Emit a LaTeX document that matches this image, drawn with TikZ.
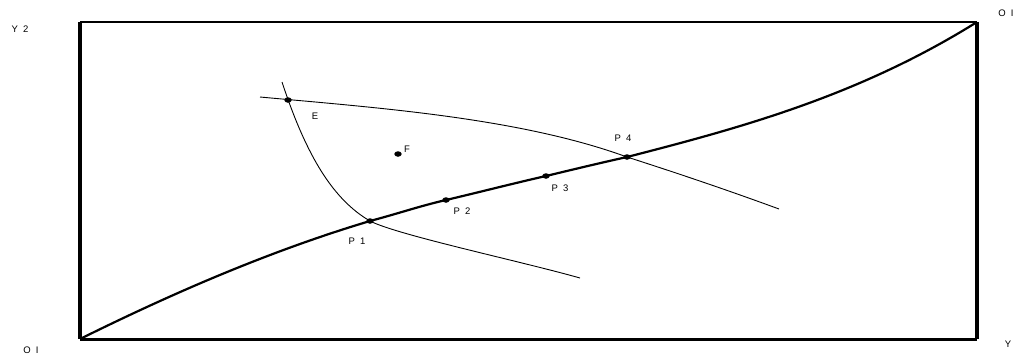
\documentclass[tikz,border=0pt]{standalone}
\usepackage{fontspec}
\setmainfont{Liberation Sans}
\newcommand\lblfont{\fontsize{9.5}{9.5}\selectfont\spaceskip 5pt\relax}
\begin{document}
\begin{tikzpicture}[x=1pt,y=-1pt,
  lbl/.style={font=\lblfont, inner sep=0pt},
  dot/.style={fill=black, circle, inner sep=0pt, minimum size=5.5pt, xscale=1.35},
  thick curve/.style={line width=2.2pt},
  thin curve/.style={line width=0.9pt}]
\useasboundingbox (0,0) rectangle (1017,354);
% frame
\coordinate (BL) at (80,339);
\coordinate (TL) at (80,22);
\coordinate (TR) at (977,22);
\coordinate (BR) at (977,339);
\draw[line width=1.8pt] (TL) -- (TR);
\draw[line width=4pt] (TL) -- (BL);
\draw[line width=3.5pt] (TR) -- (BR);
\draw[line width=3pt] (BL) -- (BR);
% points
\coordinate (P1) at (370,221);
\coordinate (P2) at (446,200);
\coordinate (P3) at (546,176);
\coordinate (P4) at (627,157);
\coordinate (E) at (288,100);
\coordinate (F) at (398,154);
% main curve
\draw[thick curve] (BL) .. controls (177,291) and (273,250) .. (P1)
  .. controls (400,213) and (420,206) .. (P2)
  .. controls (480,192) and (515,183) .. (P3)
  .. controls (575,169) and (600,163) .. (P4)
  .. controls (744,127) and (860,95) .. (TR);
% convex curve through E and P1
\coordinate (Ca) at (282,82);
\coordinate (Cb) at (580,278);
\draw[thin curve] (Ca) .. controls (307,158) and (334,200) .. (P1)
  .. controls (397,235) and (520,261) .. (Cb);
% curve through E and P4
\coordinate (Da) at (260,97);
\coordinate (Db) at (779,209);
\draw[thin curve] (Da) .. controls (380,108) and (520,118) .. (P4)
  .. controls (680,174) and (730,191) .. (Db);
% dots
\foreach \p in {P1,P2,P3,P4,E,F} \node[dot] (d\p) at (\p) {};
% labels
\node[lbl] (lE) at (315,116) {E};
\node[lbl] (lF) at (407,149) {F};
\node[lbl] (lP1) at (357,241) {P 1};
\node[lbl] (lP2) at (462,211) {P 2};
\node[lbl] (lP3) at (560,188) {P 3};
\node[lbl] (lP4) at (623,138) {P 4};
\node[lbl] (lY2) at (20,29) {Y 2};
\node[lbl] (lOt) at (1006,13) {O I};
\node[lbl] (lOb) at (31,350) {O I};
\node[lbl] (lY) at (1008,344) {Y};
\end{tikzpicture}
\end{document}
